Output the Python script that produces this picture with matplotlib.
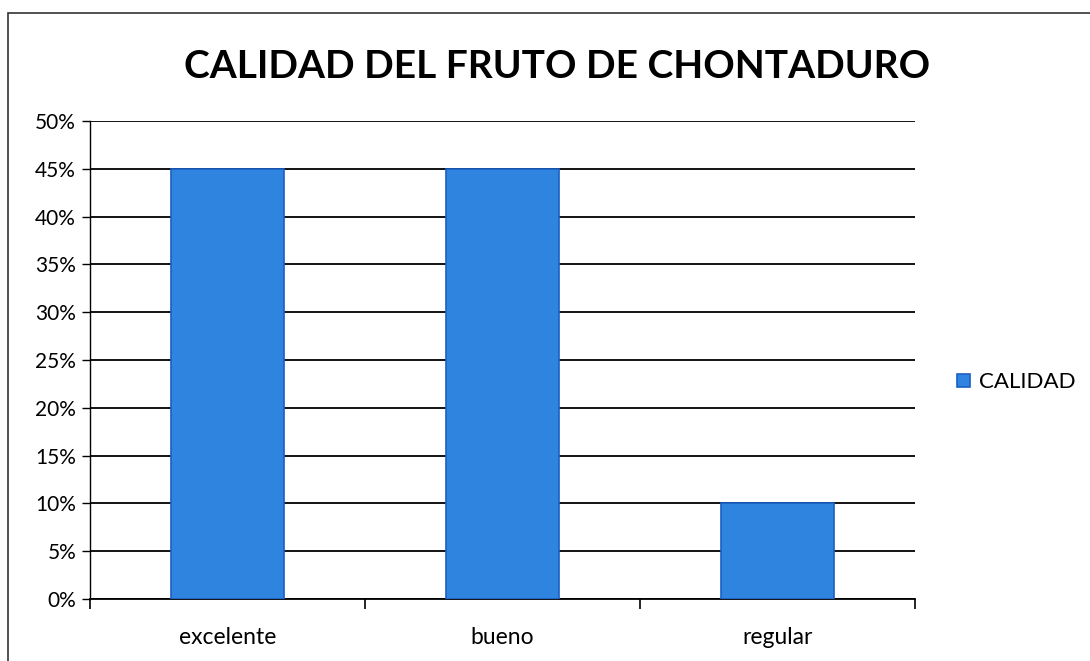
import matplotlib
matplotlib.use("Agg")
import matplotlib.pyplot as plt
from matplotlib.patches import Rectangle
from matplotlib.ticker import PercentFormatter, MultipleLocator

categories = ["excelente", "bueno", "regular"]
calidad = [45, 45, 10]
series_name = "CALIDAD"
title = "CALIDAD DEL FRUTO DE CHONTADURO"

plt.rcParams['font.family'] = ['Lato', 'DejaVu Sans']

fig = plt.figure(figsize=(10.9, 6.61), dpi=100)
fig.patch.set_facecolor("white")
ax = fig.add_axes([0.0826, 0.0938, 0.757, 0.723])

x = range(len(categories))
ax.bar(x, calidad, width=0.41, color="#2f84e0", edgecolor="#1a5fc4",
       linewidth=1.2, label=series_name, zorder=3)

ax.set_xlim(-0.5, len(categories) - 0.5)
ax.set_ylim(0, 50)
ax.yaxis.set_major_locator(MultipleLocator(5))
ax.yaxis.set_major_formatter(PercentFormatter(decimals=0))
ax.grid(axis="y", color="black", linewidth=1.3, zorder=0)
ax.set_axisbelow(True)

for s in ["top", "right"]:
    ax.spines[s].set_visible(False)
ax.spines["left"].set_linewidth(1.0)
ax.spines["bottom"].set_linewidth(1.3)

ax.set_xticks(list(x))
ax.set_xticklabels(categories, fontsize=16.5)
ax.set_xticks([-0.5, 0.5, 1.5, 2.5], minor=True)
ax.tick_params(axis="x", which="major", length=0, pad=20)
ax.tick_params(axis="x", which="minor", length=7, width=1.2, direction="out")
ax.tick_params(axis="y", length=6, width=1.0, labelsize=15, pad=4)

fig.text(0.511, 0.90, title, ha="center", va="center", fontsize=28,
         fontweight="bold")

leg = fig.legend(loc="center left", bbox_to_anchor=(0.86, 0.422),
                 frameon=False, fontsize=16, handlelength=0.55,
                 handleheight=0.55, handletextpad=0.4)

fig.add_artist(Rectangle((0.007, -0.05), 1.2, 1.03, transform=fig.transFigure,
                         fill=False, edgecolor="#333333", linewidth=1.2))

fig.savefig("out.png", dpi=100)
